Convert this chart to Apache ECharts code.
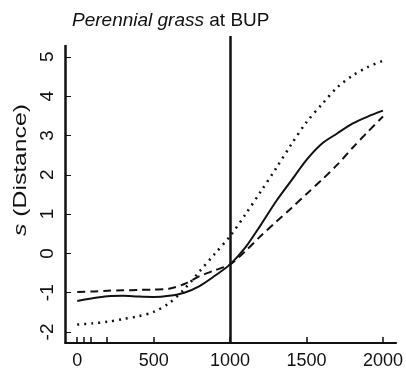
<!DOCTYPE html>
<html>
<head>
<meta charset="utf-8">
<script src="https://cdn.jsdelivr.net/npm/echarts@6/dist/echarts.min.js"></script>
<style>html,body{margin:0;padding:0;background:#fff}#c{width:406px;height:370px}</style>
</head>
<body>
<div id="c"></div>
<script>
var distance = [0,100,200,300,400,500,600,700,800,900,1000,1100,1200,1300,1400,1500,1600,1700,1800,1900,2000];
var solidS  = [-1.21,-1.14,-1.09,-1.08,-1.10,-1.11,-1.08,-1.00,-0.83,-0.57,-0.28,0.15,0.72,1.32,1.85,2.38,2.79,3.05,3.30,3.48,3.63];
var dashedS = [-0.98,-0.97,-0.95,-0.94,-0.93,-0.92,-0.90,-0.78,-0.58,-0.43,-0.28,0.06,0.44,0.80,1.15,1.51,1.87,2.25,2.68,3.09,3.48];
var dottedS = [-1.81,-1.78,-1.74,-1.67,-1.60,-1.49,-1.27,-0.91,-0.46,-0.01,0.44,0.99,1.57,2.16,2.77,3.34,3.79,4.22,4.52,4.74,4.90];
var xTickLabels = [0,500,1000,1500,2000];
var rugTicks = [0,40,90,195,500,1000,1500,2000];
var yTickLabels = [-2,-1,0,1,2,3,4,5];
var vLine = 1000;
var xMin = -80, xMax = 2086, yMin = -2.28, yMax = 5.53, yAxisTop = 5.30;

function pairs(ys){ return distance.map(function(x,i){ return [x, ys[i]]; }); }
var font = 'Liberation Sans, Arial, Helvetica, sans-serif';
var chart = echarts.init(document.getElementById('c'), null, {renderer:'canvas'});
chart.setOption({
  animation:false,
  backgroundColor:'#fff',
  title:{
    text:'{i|Perennial grass} at BUP',
    left:67, top:6,
    textStyle:{fontFamily:font, fontSize:19, fontWeight:'normal', color:'#111',
      rich:{i:{fontStyle:'italic', fontFamily:font, fontSize:19, color:'#111'}}}
  },
  graphic:[{
    type:'text', x:21, y:170, rotation:Math.PI/2, scaleX:1.3, scaleY:1,
    style:{text:'{i|s} (Distance)', fontFamily:font, fontSize:19, fill:'#111',
      align:'center', verticalAlign:'middle',
      rich:{i:{fontStyle:'italic', fontFamily:font, fontSize:19, fill:'#111'}}}
  }],
  grid:{left:65, right:7, top:36, bottom:27},
  xAxis:{
    type:'value', min:xMin, max:xMax,
    axisLine:{show:true, onZero:false, lineStyle:{color:'#111', width:2}},
    axisTick:{show:true, inside:true, length:6, customValues:rugTicks, lineStyle:{color:'#111', width:1.5}},
    axisLabel:{customValues:xTickLabels, margin:9, fontFamily:font, fontSize:18, color:'#111',
      formatter:function(v){ return String(v); }},
    splitLine:{show:false}
  },
  yAxis:{
    type:'value', min:yMin, max:yMax,
    axisLine:{show:false, onZero:false},
    axisTick:{show:true, inside:true, length:6, customValues:yTickLabels, lineStyle:{color:'#111', width:1}},
    axisLabel:{customValues:yTickLabels, rotate:90, margin:8, align:'center', verticalAlign:'bottom',
      fontFamily:font, fontSize:19, color:'#111'},
    splitLine:{show:false}
  },
  series:[
    {type:'line', data:pairs(solidS), smooth:0.3, showSymbol:false, symbol:'none',
      lineStyle:{color:'#111', width:2, type:'solid'},
      markLine:{silent:true, symbol:'none', label:{show:false}, animation:false,
        data:[
          [{coord:[vLine, yMin]},{coord:[vLine, yMax]}],
          [{coord:[xMin, yMin]},{coord:[xMin, yAxisTop]}]
        ],
        lineStyle:{color:'#111', width:2.5, type:'solid'}}},
    {type:'line', data:pairs(dashedS), smooth:0.3, showSymbol:false, symbol:'none',
      lineStyle:{color:'#111', width:2, type:[8,5]}},
    {type:'line', data:pairs(dottedS), smooth:0.3, showSymbol:false, symbol:'none',
      lineStyle:{color:'#111', width:2.5, type:[2,5]}}
  ]
});
</script>
</body>
</html>
